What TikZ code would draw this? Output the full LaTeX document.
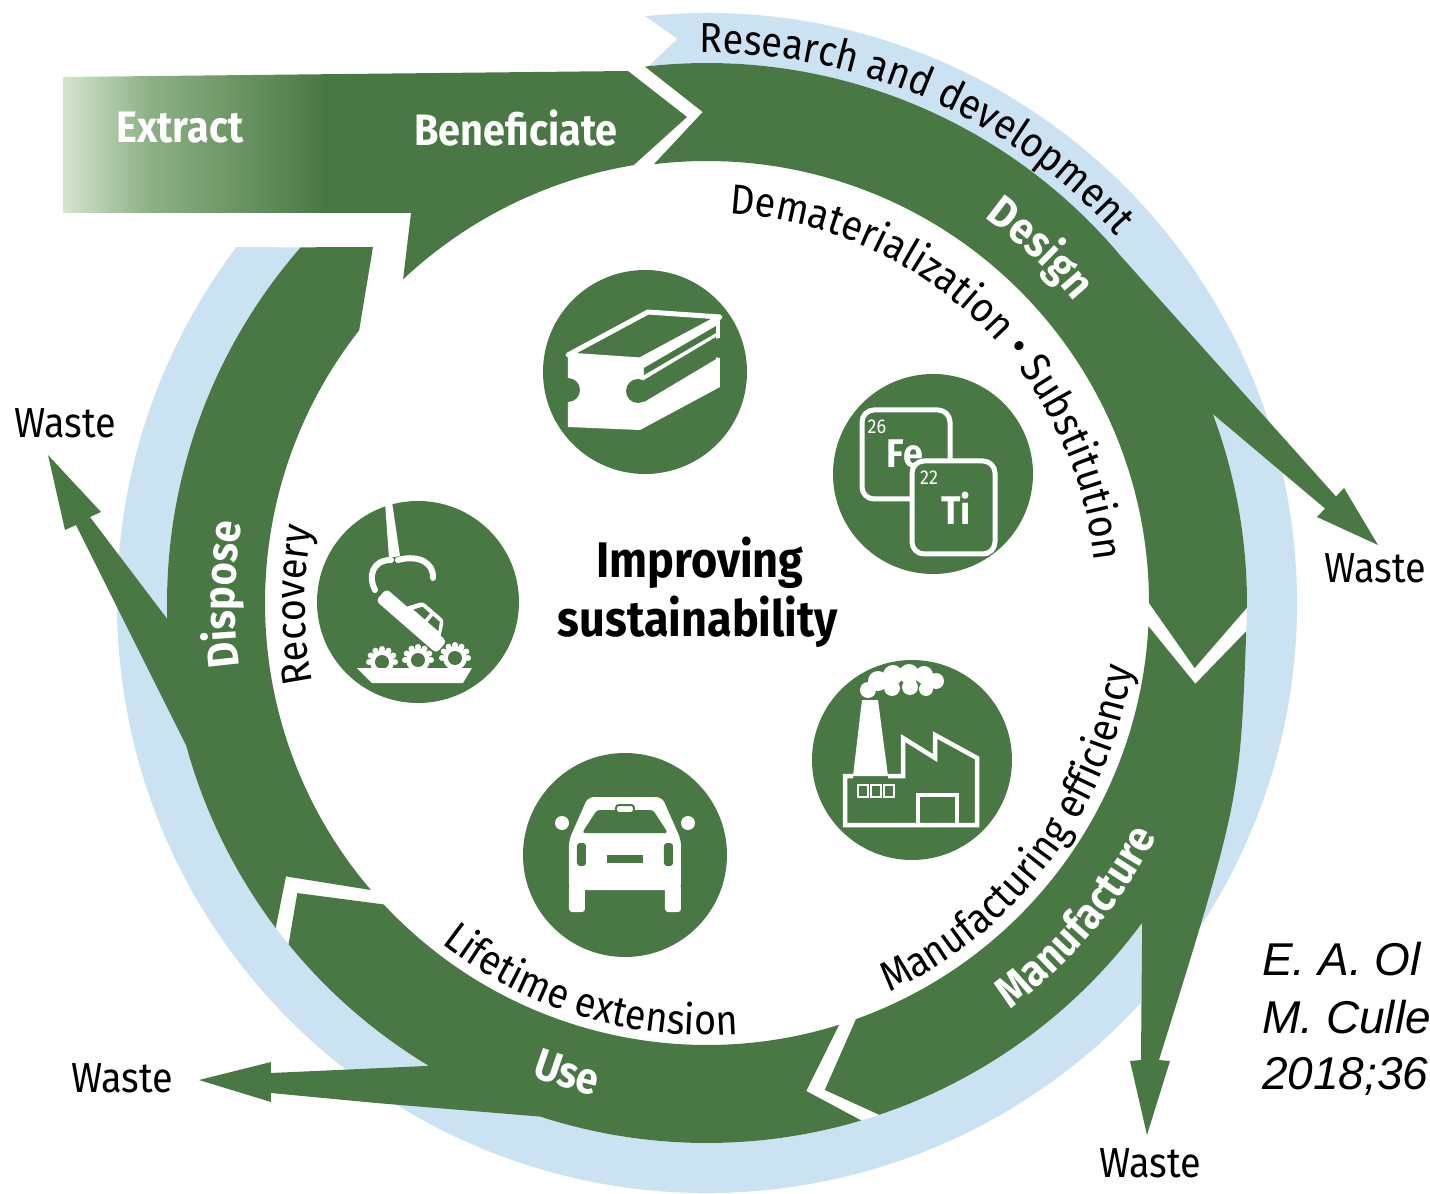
\documentclass[tikz,border=0pt]{standalone}
\usepackage{fontspec}
\setmainfont{Fira Sans}[FakeStretch=0.9]
\newfontfamily\citefont{Liberation Sans}
\usetikzlibrary{decorations.text}

\definecolor{ringgreen}{RGB}{73,120,68}
\definecolor{ringblue}{RGB}{202,226,241}
\definecolor{fadegreen}{RGB}{214,228,208}
\definecolor{midgreen}{RGB}{140,176,132}
\pgfdeclarehorizontalshading{extractfade}{100bp}{color(0bp)=(fadegreen); color(25bp)=(fadegreen); color(32bp)=(midgreen); color(46bp)=(ringgreen); color(100bp)=(ringgreen)}

\newcommand\arcfont{\fontsize{42}{46}\selectfont}
\newcommand\arcbold{\fontsize{44}{48}\selectfont\bfseries}

\begin{document}
\begin{tikzpicture}[x=1pt, y=1pt,
  band/.style={fill=ringgreen},
  icon/.style={circle, fill=ringgreen, minimum size=#1, inner sep=0pt},
  icon/.default=204pt,
  wastelbl/.style={font=\arcfont, inner sep=0pt},
  stagelbl/.style={font=\arcbold, text=white, inner sep=0pt},
  elemlbl/.style={font=\fontsize{40}{40}\selectfont\bfseries, text=white, inner sep=0pt},
  elemnum/.style={font=\fontsize{20}{20}\selectfont, text=white, inner sep=0pt},
  citelbl/.style={font=\citefont\itshape\fontsize{46}{54}\selectfont, inner sep=0pt, anchor=base west},
  curved/.style={decorate, decoration={text along path, text align=center, text={#1}}},
  curvedw/.style={decorate, decoration={text along path, text align=center, text color=white, text={#1}}}]
\useasboundingbox (-707,-591) rectangle (723,603);

\fill[ringblue] (96:590) arc[start angle=96, end angle=-217.1, radius=590] -- (-221.2:540) arc[start angle=-221.2, end angle=96.2, radius=540] -- (93:565) -- cycle;

\shade[shading=extractfade] (-644,526) -- (-79,532) -- (-20,486) -- (99.5:444) arc[start angle=99.5, end angle=133.2, radius=444] -- (-296,390) -- (-644,390) -- cycle;

\fill[band] (96.6:540) arc[start angle=96.6, end angle=40, radius=540] -- (629,106.5) -- (637,115) -- (671,58) -- (610,86) -- (618,94.5) -- (20.5:540) arc[start angle=20.5, end angle=-0.5, radius=540] -- (-7.6:492) -- (0:442) arc[start angle=0, end angle=96.9, radius=442] -- (90.5:491) -- cycle;

\fill[band] (-3:540) .. controls (533,-197) .. (452,-457) -- (463,-458) -- (440,-532) -- (423,-458) -- (434,-457) -- (-36.3:540) arc[start angle=-36.3, end angle=-71.4, radius=540] -- (-76.4:501) -- (-70.3:442) arc[start angle=-70.3, end angle=-3, radius=442] -- (-9.4:495) -- cycle;

\fill[band] (-73.4:540) arc[start angle=-73.4, end angle=-108, radius=540] -- (-331,-500) -- (-436,-490) -- (-436,-499) -- (-508,-477) -- (-436,-459) -- (-436,-470) -- (-121:540) arc[start angle=-121, end angle=-140.8, radius=540] -- (-144.7:502) -- (-137:442) arc[start angle=-137, end angle=-72.6, radius=442] -- (-78.5:498) -- cycle;

\fill[band] (217:540) arc[start angle=217, end angle=195.3, radius=540] -- (-631,78) -- (-642,73) -- (-659,148) -- (-606,91) -- (-617,86) -- (181.7:540) arc[start angle=181.7, end angle=138.8, radius=540] -- (-334,356) -- (141.9:442) arc[start angle=141.9, end angle=220.5, radius=442] -- (213:502) -- cycle;

\node[icon] (beam) at (-62,231) {};
\begin{scope}[shift={(beam.center)}]
\fill[white] (-5,12) -- (75,55) -- (75,-15) -- (-5,-58) -- cycle;
\fill[ringgreen] (-1,4) -- (71,46) -- (71,39) -- (-1,-3) -- cycle;
\fill[ringgreen] (-1,-8) -- (71,35) -- (71,13) -- (-1,-30) -- cycle;
\filldraw[ringgreen, draw=white, line width=5pt, line join=round] (-77,17) -- (3,60) -- (75,55) -- (-5,12) -- cycle;
\fill[white] (-77,17) -- (-5,12) -- (-5,-58) -- (-77,-55) -- cycle;
\fill[ringgreen] (-77,-18) circle (12) (-7,-19) circle (12) (75,24) circle (10);
\end{scope}

\node[icon=200pt] (elem) at (226,129) {};
\begin{scope}[shift={(elem.center)}]
\draw[white, line width=5pt, rounded corners=12pt] (-71,-25) rectangle (17,64);
\node[elemnum] (fenum) at (-56,47) {26};
\node[elemlbl] (fesym) at (-28,20) {Fe};
\filldraw[ringgreen, draw=white, line width=5pt, rounded corners=12pt] (-21,-80) rectangle (62,13);
\node[elemnum] (tinum) at (-4,-4) {22};
\node[elemlbl] (tisym) at (23,-34) {Ti};
\end{scope}

\node[icon=202pt] (recov) at (-289,1) {};
\begin{scope}[shift={(recov.center)}]
\fill[white] (-33,100) -- (-26,100) -- (-18,46) -- (-29,44) -- cycle;
\draw[white, line width=6pt, line cap=round] (-27,42) .. controls (-46,42) and (-50,25) .. (-43,12);
\draw[white, line width=6pt, line cap=round] (-20,42) .. controls (2,48) and (16,38) .. (15,24);
\begin{scope}[shift={(-4,-16)}, rotate=-41]
\fill[white, rounded corners=4pt] (-40,-12) rectangle (40,4);
\fill[white, rounded corners=3pt] (-14,2) -- (-4,18) -- (24,18) -- (33,2) -- cycle;
\fill[ringgreen] (-6,6) -- (-1,14) -- (9,14) -- (9,6) -- cycle;
\fill[ringgreen] (13,6) -- (13,14) -- (22,14) -- (27,6) -- cycle;
\end{scope}
\foreach \gx/\gy in {-36/-60, 0/-58, 37/-56} {
  \fill[white] (\gx,\gy) circle (12);
  \foreach \a in {0,30,...,180} \fill[white] ([shift={(\gx,\gy)}]\a:13) circle (3);
  \fill[ringgreen] (\gx,\gy) circle (7);
}
\fill[white] (-61,-66) -- (54,-66) -- (45,-81) -- (-46,-81) -- cycle;
\end{scope}

\node[icon=200pt] (plant) at (205,-157) {};
\begin{scope}[shift={(plant.center)}]
\draw[white, line width=4.5pt] (-24,-16) -- (-9,-16) -- (-9,22) -- (23,2) -- (23,25) -- (65,2) -- (65,-65) -- (-67,-65) -- (-67,-16) -- (-59,-16);
\fill[white] (-59,-16) -- (-50,60) -- (-34,60) -- (-24,-16) -- cycle;
\foreach \wx in {-54,-41,-28} \draw[white, line width=2.5pt] (\wx,-37) rectangle ++(10,12);
\draw[white, line width=4pt] (6,-65) -- (6,-35) -- (45,-35) -- (45,-65);
\fill[white] (-44,70) circle (8) (-34,79) circle (10) (-19,85) circle (10) (-3,86) circle (10) (12,85) circle (9) (24,79) circle (8) (14,71) circle (7) (-2,73) circle (8) (-20,72) circle (8);
\end{scope}

\node[icon] (car) at (-82,-252) {};
\begin{scope}[shift={(car.center)}]
\fill[white] (-63,32) circle (7) (63,32) circle (7);
\fill[white, rounded corners=6pt] (-56,-35) -- (-56,15) -- (-37,58) -- (37,58) -- (56,15) -- (56,-35) -- cycle;
\fill[ringgreen, rounded corners=3pt] (-43,22) -- (-28,45) -- (28,45) -- (43,22) -- cycle;
\filldraw[white, draw=ringgreen, line width=2pt, rounded corners=3pt] (-9,42) rectangle (9,50);
\fill[ringgreen, rounded corners=3pt] (-48,-11) rectangle (-39,12) (39,-11) rectangle (48,12);
\fill[ringgreen] (-18,-8) rectangle (18,0);
\fill[white, rounded corners=3pt] (-56,-57) rectangle (-40,-30) (40,-57) rectangle (56,-30);
\end{scope}

\node[stagelbl] (extract) at (-527,475) {Extract};
\node[stagelbl] (benef) at (-191,475) {Beneficiate};
\node[font=\fontsize{50}{56}\selectfont\bfseries, inner sep=0pt, anchor=base] (improve) at (-7,25) {Improving};
\node[font=\fontsize{50}{56}\selectfont\bfseries, inner sep=0pt, anchor=base] (sustain) at (-9,-34) {sustainability};

\node[wastelbl] (wasteL) at (-642,180) {Waste};
\node[wastelbl] (wasteR) at (668,35) {Waste};
\node[wastelbl] (wasteU) at (-585,-475) {Waste};
\node[wastelbl] (wasteM) at (443,-560) {Waste};

\path[curved={|\arcfont|Research and development}] (101:550) arc[start angle=101, end angle=31.6, radius=550];
\path[curved={|\arcfont|Dematerialization {\textbullet} Substitution}] (96.4:390) arc[start angle=96.4, end angle=-3.6, radius=390];
\path[curvedw={|\arcbold|Design}] (66.8:475) arc[start angle=66.8, end angle=26.8, radius=475];
\path[curved={|\arcfont|Manufacturing efficiency}] (-76.8:430) arc[start angle=-76.8, end angle=3.2, radius=430];
\path[curvedw={|\arcbold|Manufacture}] (-60.3:507) arc[start angle=-60.3, end angle=-20.3, radius=507];
\path[curved={|\arcfont|Lifetime extension}] (-136.9:432) arc[start angle=-136.9, end angle=-76.9, radius=432];
\path[curvedw={|\arcbold|Use}] (-121.6:505) arc[start angle=-121.6, end angle=-91.6, radius=505];
\path[curvedw={|\arcbold|Dispose}] (199:472) arc[start angle=199, end angle=159, radius=472];
\path[curved={|\arcfont|Recovery}] (200.3:402) arc[start angle=200.3, end angle=160.3, radius=402];

\node[citelbl] (cite1) at (555,-372) {E. A. Ol};
\node[citelbl] (cite2) at (555,-430) {M. Culle};
\node[citelbl] (cite3) at (555,-486) {2018;36};
\end{tikzpicture}
\end{document}
